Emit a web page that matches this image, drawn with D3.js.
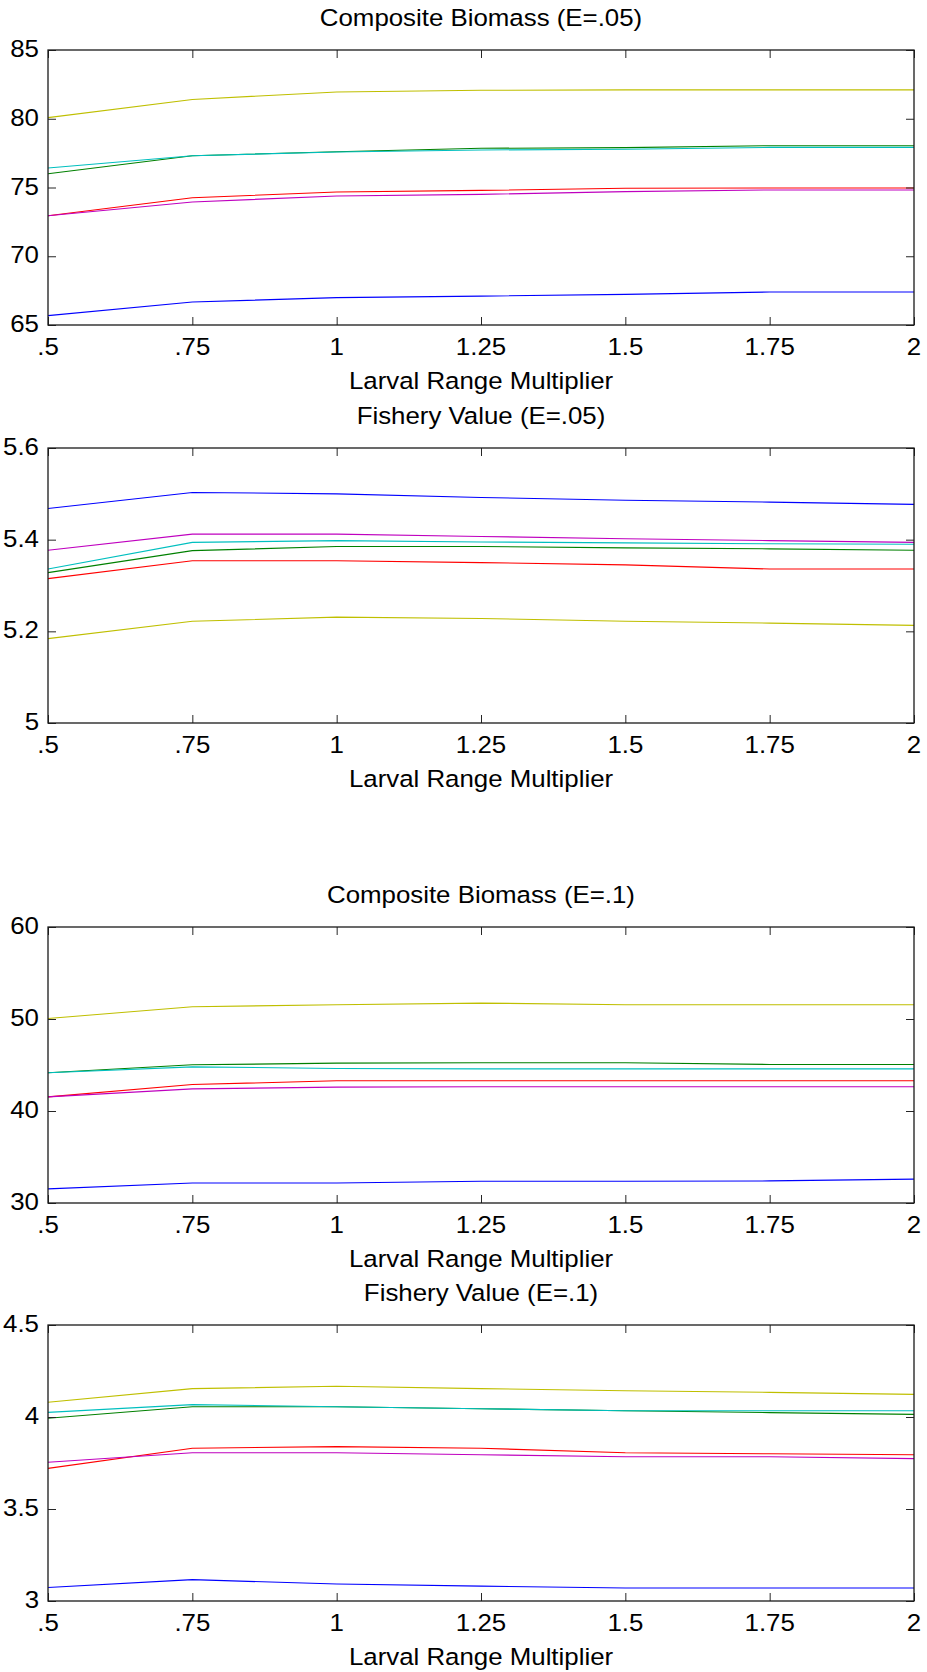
<!DOCTYPE html>
<html>
<head>
<meta charset="utf-8">
<script src="https://cdn.jsdelivr.net/npm/d3@7"></script>
<style>
  html, body { margin: 0; padding: 0; background: #fff; }
  svg text { font-family: "Liberation Sans", Arial, Helvetica, sans-serif; fill: #000; }
</style>
</head>
<body>
<svg id="chart" width="927" height="1672"></svg>
<script>
// ---------- data ----------
const larvalRange = [0.5, 0.75, 1, 1.25, 1.5, 1.75, 2];
const xTickLabels = [".5", ".75", "1", "1.25", "1.5", "1.75", "2"];
const xAxisTitle = "Larval Range Multiplier";
const panelTitles = ["Composite Biomass (E=.05)", "Fishery Value (E=.05)",
                     "Composite Biomass (E=.1)", "Fishery Value (E=.1)"];
const seriesOrder = ["blue", "green", "red", "cyan", "magenta", "yellow"];

// series rows follow seriesOrder
const biomassE05 = [
  [65.68, 66.67, 66.99, 67.10, 67.23, 67.40, 67.40],
  [76.00, 77.31, 77.60, 77.85, 77.90, 78.04, 78.04],
  [72.95, 74.26, 74.67, 74.79, 74.94, 74.96, 74.96],
  [76.42, 77.31, 77.58, 77.73, 77.78, 77.92, 77.92],
  [72.95, 73.95, 74.38, 74.50, 74.70, 74.82, 74.82],
  [80.08, 81.40, 81.95, 82.07, 82.10, 82.10, 82.10]
];
const fisheryE05 = [
  [5.468, 5.503, 5.500, 5.492, 5.486, 5.482, 5.477],
  [5.328, 5.376, 5.385, 5.385, 5.382, 5.380, 5.377],
  [5.315, 5.354, 5.354, 5.350, 5.345, 5.336, 5.336],
  [5.336, 5.394, 5.398, 5.395, 5.393, 5.391, 5.390],
  [5.377, 5.412, 5.412, 5.407, 5.402, 5.398, 5.394],
  [5.184, 5.222, 5.231, 5.228, 5.222, 5.218, 5.213]
];
const biomassE1 = [
  [31.53, 32.18, 32.18, 32.36, 32.36, 32.40, 32.60],
  [44.15, 45.02, 45.20, 45.24, 45.24, 45.06, 45.06],
  [41.54, 42.88, 43.28, 43.28, 43.28, 43.28, 43.28],
  [44.15, 44.80, 44.62, 44.58, 44.58, 44.58, 44.58],
  [41.54, 42.41, 42.59, 42.63, 42.63, 42.63, 42.63],
  [50.06, 51.33, 51.55, 51.73, 51.55, 51.55, 51.55]
];
const fisheryE1 = [
  [3.073, 3.116, 3.092, 3.081, 3.071, 3.071, 3.071],
  [3.993, 4.056, 4.056, 4.045, 4.034, 4.024, 4.014],
  [3.721, 3.830, 3.839, 3.830, 3.806, 3.800, 3.795],
  [4.025, 4.067, 4.056, 4.045, 4.034, 4.034, 4.034],
  [3.754, 3.806, 3.806, 3.795, 3.784, 3.784, 3.774],
  [4.080, 4.154, 4.167, 4.154, 4.143, 4.134, 4.123]
];
const yTicksBiomassE05 = [65, 70, 75, 80, 85];
const yTicksFisheryE05 = [5, 5.2, 5.4, 5.6];
const yTicksBiomassE1 = [30, 40, 50, 60];
const yTicksFisheryE1 = [3, 3.5, 4, 4.5];

// ---------- style / layout ----------
const colors = {
  blue: "#0000ff", green: "#008000", red: "#ff0000",
  cyan: "#00bfbf", magenta: "#bf00bf", yellow: "#bfbf00"
};
const panels = [
  { data: biomassE05, ticks: yTicksBiomassE05, top: 50, bottom: 325 },
  { data: fisheryE05, ticks: yTicksFisheryE05, top: 448, bottom: 723 },
  { data: biomassE1, ticks: yTicksBiomassE1, top: 927, bottom: 1203 },
  { data: fisheryE1, ticks: yTicksFisheryE1, top: 1325, bottom: 1601 }
];
const left = 48, right = 914, tickLen = 8, fontSize = 23.5, stretch = 1.1;

const svg = d3.select("#chart");

function addText(g, x, y, str, anchor) {
  const t = g.append("g").attr("transform", `translate(${x},${y}) scale(${stretch},1)`);
  t.append("text").attr("text-anchor", anchor).attr("font-size", fontSize).text(str);
}

panels.forEach((p, i) => {
  const x = d3.scaleLinear().domain([0.5, 2]).range([left, right]);
  const y = d3.scaleLinear().domain([p.ticks[0], p.ticks[p.ticks.length - 1]]).range([p.bottom, p.top]);
  const g = svg.append("g");

  // lines
  const line = d3.line().x((d, j) => x(larvalRange[j])).y(d => y(d));
  p.data.forEach((row, k) => {
    g.append("path").attr("d", line(row)).attr("fill", "none")
      .attr("stroke", colors[seriesOrder[k]]).attr("stroke-width", 1.1);
  });

  // axes with inward ticks on all four sides
  const fmtX = (d, j) => xTickLabels[j];
  const bottomAxis = d3.axisBottom(x).tickValues(larvalRange).tickSize(-tickLen).tickFormat("");
  const topAxis = d3.axisTop(x).tickValues(larvalRange).tickSize(-tickLen).tickFormat("");
  const leftAxis = d3.axisLeft(y).tickValues(p.ticks).tickSize(-tickLen).tickFormat("");
  const rightAxis = d3.axisRight(y).tickValues(p.ticks).tickSize(-tickLen).tickFormat("");
  [[bottomAxis, `translate(0,${p.bottom})`], [topAxis, `translate(0,${p.top})`],
   [leftAxis, `translate(${left},0)`], [rightAxis, `translate(${right},0)`]].forEach(([ax, tr]) => {
    const a = g.append("g").attr("transform", tr).call(ax);
    a.select(".domain").remove();
    a.selectAll(".tick line").attr("stroke", "#262626").attr("stroke-width", 1);
  });
  g.append("rect").attr("x", left).attr("y", p.top)
    .attr("width", right - left).attr("height", p.bottom - p.top)
    .attr("fill", "none").attr("stroke", "#1a1a1a").attr("stroke-width", 1.3);

  // tick labels
  larvalRange.forEach((v, j) => addText(g, x(v), p.bottom + 30, xTickLabels[j], "middle"));
  p.ticks.forEach(v => addText(g, left - 9, y(v) + 7, String(v), "end"));

  // axis title and panel title
  addText(g, (left + right) / 2, p.bottom + 64, xAxisTitle, "middle");
  addText(g, (left + right) / 2, p.top - 24, panelTitles[i], "middle");
});
</script>
</body>
</html>
